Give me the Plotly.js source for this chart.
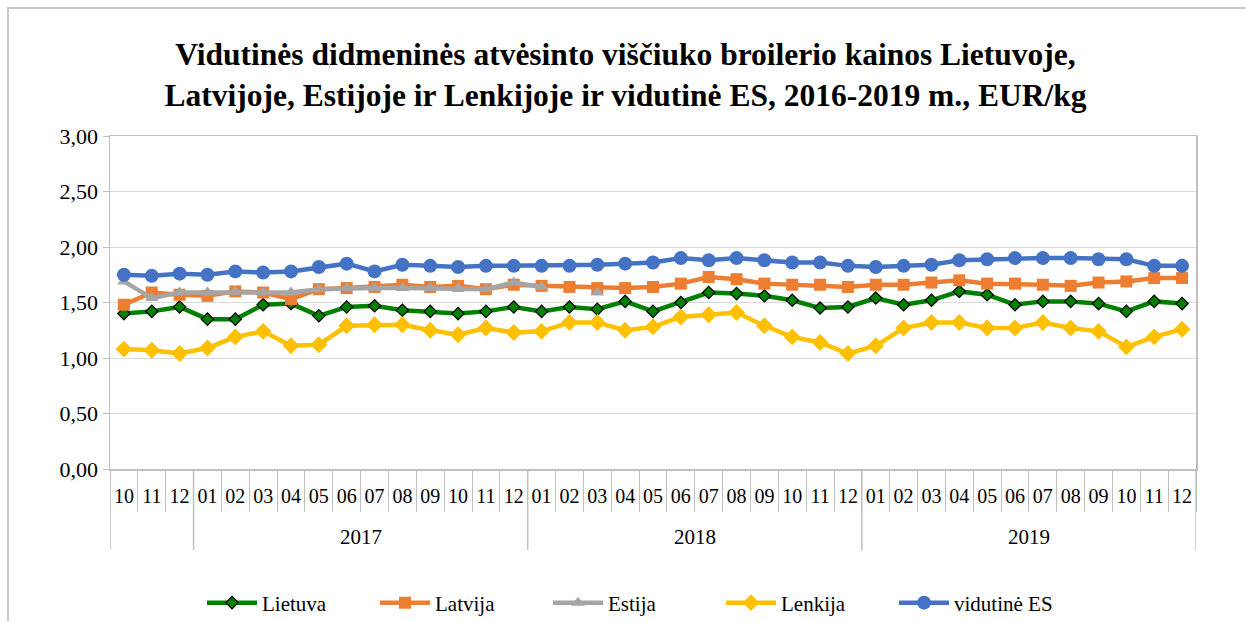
<!DOCTYPE html>
<html>
<head>
<meta charset="utf-8">
<script src="https://cdn.plot.ly/plotly-3.0.1.min.js"></script>
<style>
  html, body { margin: 0; padding: 0; background: #fff; }
  #wrap { position: relative; width: 1246px; height: 621px; overflow: hidden; }
  #chart { position: absolute; left: 0; top: 0; width: 1246px; height: 621px; }
  #frame { position: absolute; left: 7px; top: 7px; width: 1300px; height: 700px;
           border-left: 2px solid #C8C8C8; border-top: 2px solid #C8C8C8; pointer-events: none; }
</style>
</head>
<body>
<div id="wrap">
  <div id="chart"></div>
  <div id="frame"></div>
</div>
<script>
// ---- data ----
const years = ["2016", "2016", "2016",
  "2017","2017","2017","2017","2017","2017","2017","2017","2017","2017","2017","2017",
  "2018","2018","2018","2018","2018","2018","2018","2018","2018","2018","2018","2018",
  "2019","2019","2019","2019","2019","2019","2019","2019","2019","2019","2019","2019"];
const months = ["10","11","12",
  "01","02","03","04","05","06","07","08","09","10","11","12",
  "01","02","03","04","05","06","07","08","09","10","11","12",
  "01","02","03","04","05","06","07","08","09","10","11","12"];
// year groups shown under the month labels (the 2016 group has no label)
const yearLabels = { "2016": "", "2017": "2017", "2018": "2018", "2019": "2019" };

const lietuva = [1.40, 1.42, 1.46,
  1.35, 1.35, 1.48, 1.49, 1.38, 1.46, 1.47, 1.43, 1.42, 1.40, 1.42, 1.46,
  1.42, 1.46, 1.44, 1.51, 1.42, 1.50, 1.59, 1.58, 1.56, 1.52, 1.45, 1.46,
  1.54, 1.48, 1.52, 1.60, 1.57, 1.48, 1.51, 1.51, 1.49, 1.42, 1.51, 1.49];
const latvija = [1.48, 1.59, 1.57,
  1.56, 1.60, 1.59, 1.53, 1.62, 1.63, 1.64, 1.66, 1.64, 1.65, 1.62, 1.66,
  1.65, 1.64, 1.63, 1.63, 1.64, 1.67, 1.73, 1.71, 1.67, 1.66, 1.66, 1.64,
  1.66, 1.66, 1.68, 1.70, 1.67, 1.67, 1.66, 1.65, 1.68, 1.69, 1.72, 1.72];
const estija = [1.69, 1.54, 1.59,
  1.59, 1.60, 1.59, 1.59, 1.62, 1.63, 1.63, 1.63, 1.63, 1.63, 1.62, 1.68,
  1.64, null, 1.59, null, null, null, null, null, null, null, null, null,
  null, null, null, null, null, null, null, null, null, null, null, null];
const lenkija = [1.08, 1.07, 1.04,
  1.09, 1.19, 1.24, 1.11, 1.12, 1.29, 1.30, 1.30, 1.25, 1.21, 1.27, 1.23,
  1.24, 1.32, 1.32, 1.25, 1.28, 1.37, 1.39, 1.41, 1.29, 1.19, 1.14, 1.04,
  1.11, 1.27, 1.32, 1.32, 1.27, 1.27, 1.32, 1.27, 1.24, 1.10, 1.19, 1.26];
const vidutineES = [1.75, 1.74, 1.76,
  1.75, 1.78, 1.77, 1.78, 1.82, 1.85, 1.78, 1.84, 1.83, 1.82, 1.83, 1.83,
  1.83, 1.83, 1.84, 1.85, 1.86, 1.90, 1.88, 1.90, 1.88, 1.86, 1.86, 1.83,
  1.82, 1.83, 1.84, 1.88, 1.89, 1.90, 1.90, 1.90, 1.89, 1.89, 1.83, 1.83];

const seriesNames = ["Lietuva", "Latvija", "Estija", "Lenkija", "vidutinė ES"];
const titleText = "Vidutinės didmeninės atvėsinto viščiuko broilerio kainos Lietuvoje,<br>Latvijoje, Estijoje ir Lenkijoje ir vidutinė ES, 2016-2019 m., EUR/kg";

// ---- chart ----
const FONT = "Liberation Serif";
const cats = years.map((y, i) => y + "-" + months[i]);

function tr(name, y, color, symbol, size, lineColor, lineW) {
  return {
    type: "scatter", mode: "lines+markers", name: name, x: cats, y: y,
    connectgaps: false,
    line: { color: color, width: 4.5 },
    marker: { symbol: symbol, size: size, color: color,
              line: { color: lineColor, width: lineW } }
  };
}

const data = [
  tr(seriesNames[0], lietuva, "#008000", "diamond", 9.5, "#000000", 1.2),
  tr(seriesNames[1], latvija, "#ED7D31", "square", 12, "#ED7D31", 0),
  tr(seriesNames[2], estija, "#A5A5A5", "triangle-up", 12, "#A5A5A5", 0),
  tr(seriesNames[3], lenkija, "#FFC000", "diamond", 13, "#FFC000", 0),
  tr(seriesNames[4], vidutineES, "#4472C4", "circle", 14, "#4472C4", 0)
];

// plot geometry helpers (pixels -> paper fraction below the x axis)
const plotH = 621 - 136 - 152;
const pyBelow = px => -px / plotH;

// year group dividers and labels, derived from the years array
const shapes = [];
const annotations = [];
let start = 0;
for (let i = 1; i <= years.length; i++) {
  if (i === years.length || years[i] !== years[i - 1]) {
    const yr = years[start];
    shapes.push({ type: "line", xref: "x", yref: "paper",
      x0: start - 0.5, x1: start - 0.5, y0: 0, y1: pyBelow(81),
      line: { color: "#BFBFBF", width: 1.5 } });
    if (yearLabels[yr]) {
      annotations.push({ xref: "x", yref: "paper", x: (start + i - 1) / 2, y: pyBelow(68),
        text: yearLabels[yr], showarrow: false, xanchor: "center", yanchor: "middle",
        font: { family: FONT, size: 21, color: "#000000" } });
    }
    start = i;
  }
}
shapes.push({ type: "line", xref: "x", yref: "paper",
  x0: years.length - 0.5, x1: years.length - 0.5, y0: 0, y1: pyBelow(81),
  line: { color: "#BFBFBF", width: 1.5 } });

const layout = {
  width: 1246, height: 621,
  paper_bgcolor: "rgba(0,0,0,0)", plot_bgcolor: "#ffffff",
  margin: { l: 110, r: 50, t: 136, b: 152, autoexpand: false },
  separators: ", ",
  font: { family: FONT, size: 20, color: "#000000" },
  title: {
    text: titleText,
    font: { family: FONT, size: 31.5, color: "#000000", weight: "bold" },
    x: 0.502, xref: "container", xanchor: "center",
    y: 1 - 65 / 621, yref: "container", yanchor: "middle"
  },
  showlegend: true,
  legend: {
    orientation: "h", x: 0.483, xanchor: "center",
    y: 1 - 603 / 621, yref: "container", yanchor: "middle",
    font: { family: FONT, size: 21, color: "#000000" },
    itemwidth: 50,
    entrywidth: 108, entrywidthmode: "pixels",
    traceorder: "normal", bgcolor: "rgba(0,0,0,0)"
  },
  xaxis: {
    type: "category", automargin: false,
    range: [-0.5, cats.length - 0.5],
    tickvals: cats, ticktext: months, tickangle: 0,
    showgrid: false, zeroline: false,
    showline: true, linecolor: "#BFBFBF", linewidth: 1.5, mirror: true,
    ticks: "outside", ticklen: 41, tickcolor: "#BFBFBF", tickwidth: 1,
    tickson: "boundaries",
    ticklabelstandoff: 8,
    tickfont: { family: FONT, size: 20, color: "#000000" }
  },
  yaxis: {
    range: [0, 3], dtick: 0.5, tick0: 0, tickformat: ".2f", automargin: false,
    showgrid: true, gridcolor: "#D9D9D9", gridwidth: 1,
    zeroline: false,
    showline: true, linecolor: "#BFBFBF", linewidth: 1.5, mirror: true,
    ticks: "outside", ticklen: 6, tickcolor: "#BFBFBF",
    tickfont: { family: FONT, size: 22, color: "#000000" }
  },
  shapes: shapes,
  annotations: annotations
};

Plotly.newPlot("chart", data, layout, { displayModeBar: false, staticPlot: true });
</script>
</body>
</html>
